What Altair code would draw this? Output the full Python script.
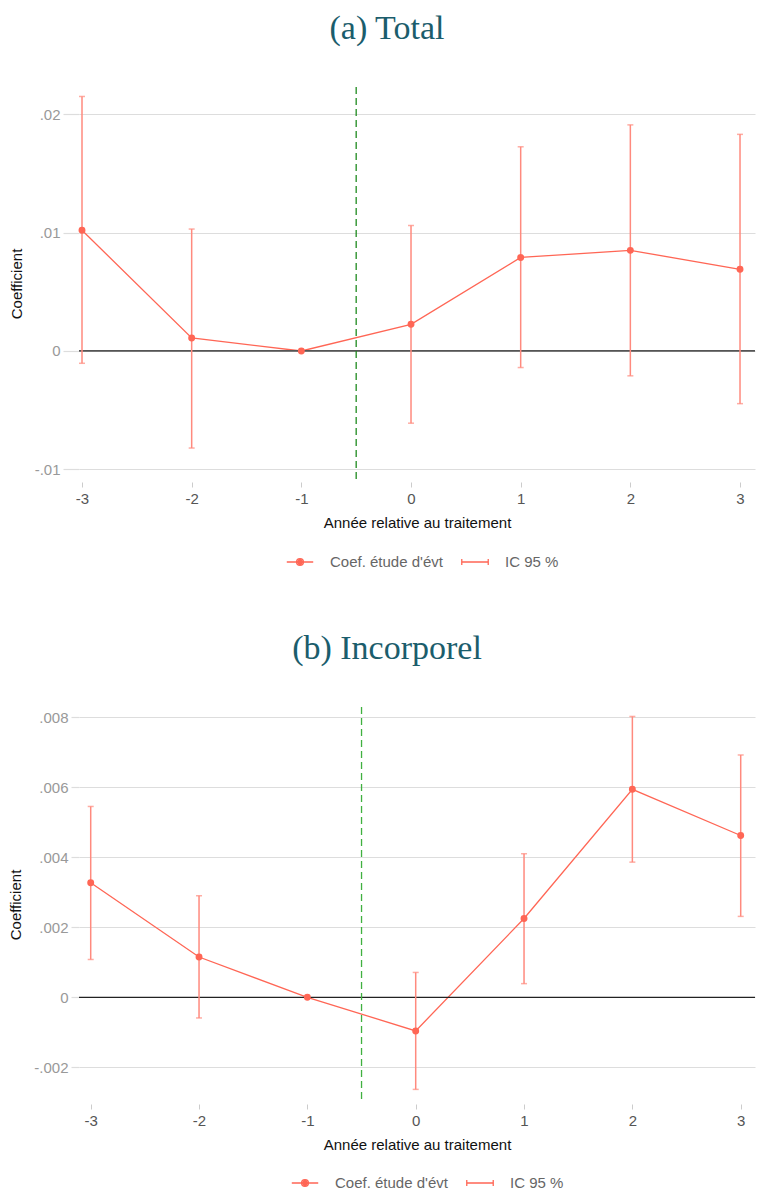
import altair as alt
import pandas as pd

# ---- data ----
periods = [-3, -2, -1, 0, 1, 2, 3]

total_coef = [0.0102, 0.0011, 0.0, 0.00225, 0.0079, 0.0085, 0.0069]
total_lo = [-0.00104, -0.0082, 0.0, -0.0061, -0.0014, -0.0021, -0.00445]
total_hi = [0.0215, 0.0103, 0.0, 0.0106, 0.01725, 0.0191, 0.0183]

incorp_coef = [0.00327, 0.00115, 0.0, -0.00096, 0.00225, 0.00594, 0.00462]
incorp_lo = [0.00108, -0.00059, 0.0, -0.00263, 0.00039, 0.00386, 0.00231]
incorp_hi = [0.00545, 0.0029, 0.0, 0.00071, 0.0041, 0.00802, 0.00692]

total_ticks = [-0.01, 0.0, 0.01, 0.02]
incorp_ticks = [-0.002, 0.0, 0.002, 0.004, 0.006, 0.008]

series_names = ["Coef. étude d'évt", "IC 95 %"]
ref_y = [0.0]
event_x = [-0.5]

RED = "#ff6655"
RED_CI = "#ff8a7e"
SANS = "Liberation Sans"

# legend symbols: a line with a (filled, via concentric rings) dot, and an error bar
sym_coef = ("M-1,0H1"
            "M-0.26,0A0.26,0.26,0,1,1,0.26,0A0.26,0.26,0,1,1,-0.26,0"
            "M-0.16,0A0.16,0.16,0,1,1,0.16,0A0.16,0.16,0,1,1,-0.16,0"
            "M-0.06,0A0.06,0.06,0,1,1,0.06,0A0.06,0.06,0,1,1,-0.06,0")
sym_ci = "M-1,0H1M-1,-0.22V0.22M1,-0.22V0.22"


def panel(title, coef, lo, hi, xdom, ydom, yticks, decimals, ytick_size,
          dash_color, zero_color, zero_width, width, height, legx, legy):
    df = pd.DataFrame({"t": periods, "b": coef, "lo": lo, "hi": hi,
                       "s": series_names[0]})
    base = alt.Chart(df)
    xscale = alt.Scale(domain=xdom, nice=False, zero=False)
    yscale = alt.Scale(domain=ydom, nice=False, zero=False)
    xaxis = alt.Axis(values=periods, title="Année relative au traitement",
                     labelExpr="replace(format(datum.value, 'd'), '\u2212', '-')",
                     grid=False, domain=False, ticks=True, tickSize=5,
                     tickColor="#cccccc", offset=2, labelColor="#555555",
                     labelFontSize=15, labelPadding=4, titleFontSize=15,
                     titleColor="#111111", titleFontWeight="normal",
                     titlePadding=9)
    yaxis = alt.Axis(values=yticks, title="Coefficient",
                     labelExpr=("replace(replace(format(datum.value, '.%d~f'), '0.', '.'), '\u2212', '-')" % decimals),
                     grid=True, gridColor="#dddddd", gridWidth=1.2,
                     domain=False, ticks=True, tickSize=ytick_size,
                     tickColor="#dddddd", tickWidth=1.2, labelColor="#999999",
                     labelFontSize=15, labelPadding=3, titleFontSize=15,
                     titleColor="#111111", titleFontWeight="normal",
                     titlePadding=10)

    X = alt.X("t:Q", scale=xscale, axis=xaxis, title="Année relative au traitement")
    Y = alt.Y("b:Q", scale=yscale, axis=yaxis, title="Coefficient")

    zero = alt.Chart(pd.DataFrame({"b": ref_y})).mark_rule(
        color=zero_color, strokeWidth=zero_width).encode(
        y=alt.Y("b:Q", title="Coefficient"))
    vline = alt.Chart(pd.DataFrame({"t": event_x})).mark_rule(
        color=dash_color, strokeDash=[7, 4], strokeWidth=1.3).encode(
        x=alt.X("t:Q", title="Année relative au traitement"))

    cidf = base.transform_filter("datum.lo != datum.hi")
    ci = cidf.mark_rule(color=RED_CI, strokeWidth=1.5).encode(
        x=alt.X("t:Q", title="Année relative au traitement"),
        y=alt.Y("lo:Q", title="Coefficient"), y2="hi:Q")
    cap_lo = cidf.mark_tick(color=RED_CI, orient="horizontal", size=6,
                            thickness=1.5).encode(
        x=alt.X("t:Q", title="Année relative au traitement"),
        y=alt.Y("lo:Q", title="Coefficient"))
    cap_hi = cidf.mark_tick(color=RED_CI, orient="horizontal", size=6,
                            thickness=1.5).encode(
        x=alt.X("t:Q", title="Année relative au traitement"),
        y=alt.Y("hi:Q", title="Coefficient"))
    line = base.mark_line(color=RED, strokeWidth=1.3).encode(x=X, y=Y)
    pts = base.mark_point(filled=True, size=48, opacity=1, color=RED).encode(
        x=alt.X("t:Q", title="Année relative au traitement"),
        y=alt.Y("b:Q", title="Coefficient"))
    leg = base.mark_point(filled=False, opacity=0, color=RED).encode(
        x=alt.X("t:Q", title="Année relative au traitement"),
        y=alt.Y("b:Q", title="Coefficient"),
        shape=alt.Shape("s:N",
                        scale=alt.Scale(domain=series_names,
                                        range=[sym_coef, sym_ci]),
                        legend=alt.Legend(title=None, orient="none",
                                          legendX=legx, legendY=legy,
                                          direction="horizontal",
                                          symbolSize=700,
                                          symbolOpacity=1,
                                          symbolStrokeColor=RED,
                                          symbolStrokeWidth=1.3,
                                          labelFontSize=15,
                                          labelColor="#666666",
                                          labelFont=SANS,
                                          labelOffset=16,
                                          columnPadding=16)))

    return alt.layer(line, zero, vline, ci, cap_lo, cap_hi, pts, leg).properties(
        width=width, height=height,
        title=alt.TitleParams(title, font="Liberation Serif", fontSize=34,
                              fontWeight="normal", color="#1b5d6c",
                              anchor="middle", frame="group", dx=-30,
                              offset=40.5))


a = panel("(a) Total", total_coef, total_lo, total_hi, [-3.0274, 3.1366],
          [-0.0109, 0.0223], total_ticks, 2, 16, "#1e8a1e", "#555555", 1.8,
          676, 393, 207, 461)
b = panel("(b) Incorporel", incorp_coef, incorp_lo, incorp_hi, [-3.108, 3.132],
          [-0.00299, 0.00829], incorp_ticks, 3, 8, "#40b040", "#222222", 1.3,
          676, 395, 212, 462)

chart = alt.concat(a, b, columns=1, spacing=61).resolve_scale(
    shape="independent", x="independent", y="independent"
).resolve_legend(shape="independent").properties(
    padding={"left": 0, "top": 3, "right": 0, "bottom": 0}
).configure_view(stroke=None).configure_axis(
    labelFont=SANS, titleFont=SANS
).configure_legend(labelFont=SANS)

chart.save("out.html", embed_options={"renderer": "svg", "actions": False})
